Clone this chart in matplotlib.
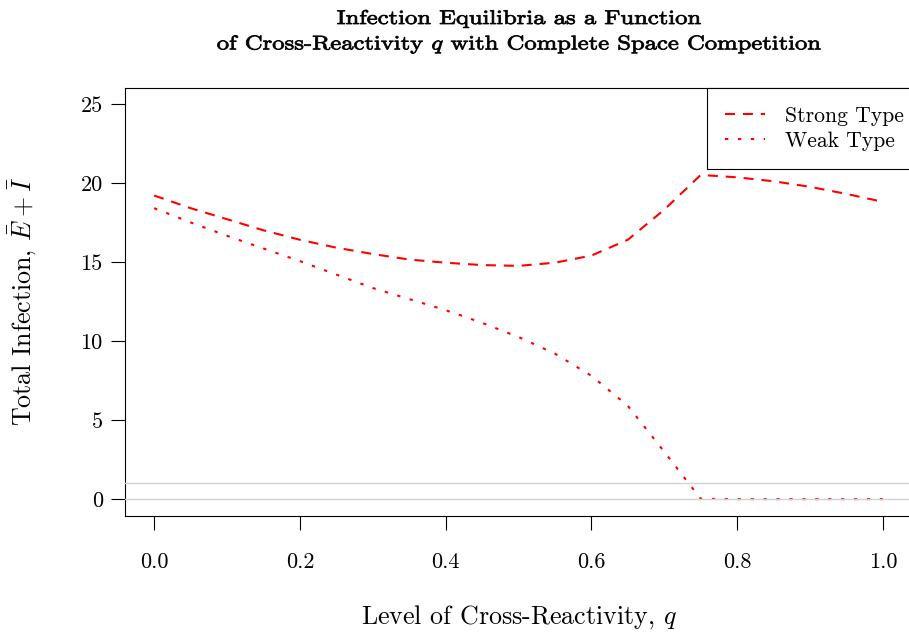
import numpy as np
import matplotlib
matplotlib.use("Agg")
import matplotlib.pyplot as plt
from matplotlib.textpath import TextPath
from matplotlib.font_manager import FontProperties
from matplotlib.patches import PathPatch
from matplotlib.transforms import Affine2D

plt.rcParams["font.family"] = ["cmr10", "DejaVu Serif"]
plt.rcParams["mathtext.fontset"] = "cm"
plt.rcParams["axes.formatter.use_mathtext"] = True
plt.rcParams["axes.unicode_minus"] = False

# cross-reactivity grid and equilibrium totals
q = np.round(np.arange(0, 1.0001, 0.05), 2)
strong = [19.2, 18.4, 17.7, 17.0, 16.4, 15.9, 15.5, 15.15, 14.95, 14.8, 14.75,
          14.95, 15.4, 16.4, 18.3, 20.5, 20.35, 20.1, 19.75, 19.3, 18.8]
weak = [18.4, 17.5, 16.65, 15.85, 15.05, 14.2, 13.35, 12.65, 11.95, 11.15, 10.25,
        9.2, 7.8, 5.9, 3.0, 0.02, 0.0, 0.0, 0.0, 0.0, 0.0]
ref_levels = [0, 1]
xticks = [0.0, 0.2, 0.4, 0.6, 0.8, 1.0]
yticks = [0, 5, 10, 15, 20, 25]
title_lines = ["Infection Equilibria as a Function",
               "of Cross-Reactivity $q$ with Complete Space Competition"]

W, H, DPI = 909, 632, 100
fig = plt.figure(figsize=(W / DPI, H / DPI), dpi=DPI)
ax = fig.add_axes([0.1375, 0.1835, 0.8658, 0.6773])

ls, = ax.plot(q, strong, color="red", lw=1.5, label="Strong Type")
ls.set_dashes((4.8, 3.8))
lw_, = ax.plot(q, weak, color="red", lw=1.5, label="Weak Type")
lw_.set_dashes((1.6, 4.6))

for lev in ref_levels:
    ax.axhline(lev, color="#d3d3d3", lw=1.0, zorder=3)

ax.set_xlim(-0.04, 1.04)
ax.set_ylim(-1.07, 26.0)
ax.set_xticks(xticks)
ax.set_xticklabels(["%.1f" % t for t in xticks])
ax.set_yticks(yticks)
ax.set_yticklabels([str(t) for t in yticks])
ax.tick_params(axis="both", labelsize=16, length=10, width=0.8, color="black")
ax.tick_params(axis="x", pad=16.5)
ax.tick_params(axis="y", pad=6)
for s in ax.spines.values():
    s.set_linewidth(0.8)

fig.text(519 / W, 1 - 617 / H, "Level of Cross-Reactivity, $q$",
         ha="center", va="center", fontsize=18.7)
fig.text(22 / W, 1 - 301 / H, r"Total Infection, $\bar{E}+\bar{I}$",
         ha="center", va="center", rotation=90, fontsize=18.7)


def wide_bold(text, cx, baseline, size=14.3, sx=1.24):
    """Draw text as a widened, stroked outline (bold extended look)."""
    tp = TextPath((0, 0), text, prop=FontProperties(family="cmr10", size=size))
    bb = tp.get_extents()
    k = DPI / 72.0
    tr = (Affine2D().translate(-(bb.x0 + bb.x1) / 2, 0)
          .scale(sx * k, k).translate(cx, H - baseline))
    fig.add_artist(PathPatch(tp, transform=tr, facecolor="black",
                             edgecolor="black", lw=0.55))


wide_bold(title_lines[0], 519, 24)
wide_bold(title_lines[1], 519, 49.5)

leg = ax.legend(loc="upper left", bbox_to_anchor=((707 - 125) / 787, 1.0), borderaxespad=0,
                fancybox=False, framealpha=1, edgecolor="black", fontsize=15.6,
                handlelength=1.85, handletextpad=0.9, borderpad=0.85, labelspacing=0.25)
leg.get_frame().set_linewidth(0.8)

fig.savefig("out.png", dpi=DPI)
